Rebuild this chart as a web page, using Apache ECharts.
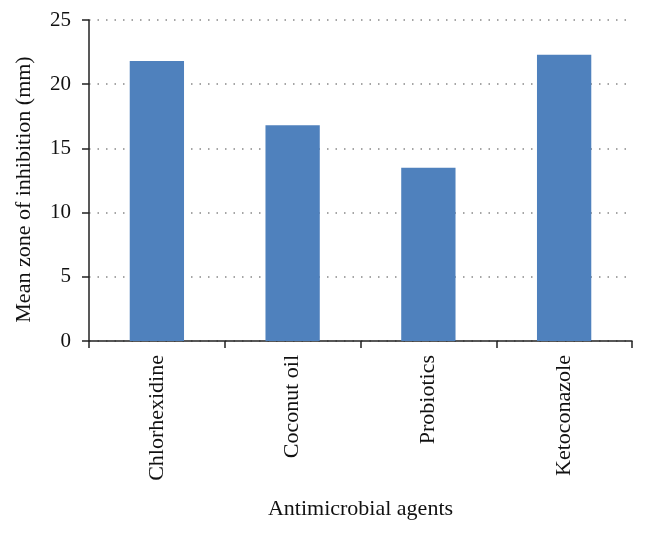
<!DOCTYPE html>
<html>
<head>
<meta charset="utf-8">
<script src="https://cdn.jsdelivr.net/npm/echarts@6/dist/echarts.min.js"></script>
<style>html,body{margin:0;padding:0;background:#fff;}#chart{width:646px;height:533px;}</style>
</head>
<body>
<div id="chart"></div>
<script>
const categories = ["Chlorhexidine", "Coconut oil", "Probiotics", "Ketoconazole"];
const values = [21.8, 16.8, 13.5, 22.3];
const yTicks = [0, 5, 10, 15, 20, 25];
const xTitle = "Antimicrobial agents";
const yTitle = "Mean zone of inhibition (mm)";

const font = "'Liberation Serif', 'DejaVu Serif', serif";
const chart = echarts.init(document.getElementById('chart'), null, {renderer: 'canvas'});
chart.setOption({
  animation: false,
  backgroundColor: '#ffffff',
  grid: {left: 89, right: 14, top: 20, bottom: 192, containLabel: false},
  xAxis: {
    type: 'category',
    data: categories,
    name: xTitle,
    nameLocation: 'middle',
    nameGap: 157,
    nameTextStyle: {fontFamily: font, fontSize: 22, color: '#111'},
    axisLine: {lineStyle: {color: '#222', width: 1.5}},
    axisTick: {show: true, alignWithLabel: false, length: 7, lineStyle: {color: '#222', width: 1.5}},
    axisLabel: {rotate: 90, margin: 14, fontFamily: font, fontSize: 22, color: '#111'},
    splitLine: {show: false}
  },
  yAxis: {
    type: 'value',
    min: yTicks[0],
    max: yTicks[yTicks.length - 1],
    interval: yTicks[1] - yTicks[0],
    name: yTitle,
    nameLocation: 'middle',
    nameGap: 54,
    nameTextStyle: {fontFamily: font, fontSize: 22, color: '#111', padding: [0, 18, 0, 0]},
    axisLine: {show: true, lineStyle: {color: '#222', width: 1.5}},
    axisTick: {show: true, length: 7, lineStyle: {color: '#222', width: 1.5}},
    axisLabel: {margin: 18, fontFamily: font, fontSize: 21, color: '#111'},
    splitLine: {show: true, lineStyle: {color: '#888', type: [1.5, 7], width: 1.5}}
  },
  series: [{
    type: 'bar',
    data: values,
    barCategoryGap: '60%',
    itemStyle: {color: '#4F81BD'}
  }]
});
</script>
</body>
</html>
